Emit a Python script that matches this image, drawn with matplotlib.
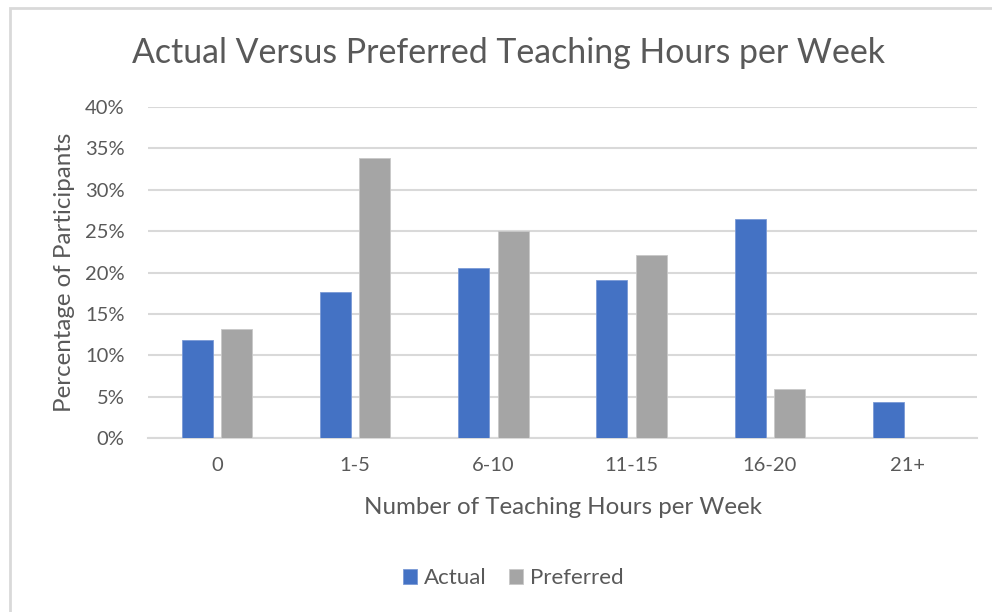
import matplotlib.pyplot as plt
import matplotlib.patches as mpatches
import numpy as np

categories = ['0', '1-5', '6-10', '11-15', '16-20', '21+']
actual = [11.8, 17.6, 20.6, 19.1, 26.5, 4.4]
preferred = [13.2, 33.8, 25.0, 22.1, 5.9, 0.0]
yticks = [0, 5, 10, 15, 20, 25, 30, 35, 40]

blue = '#4472C4'
grey = '#A5A5A5'
txt = '#595959'
plt.rcParams['font.family'] = ['Lato', 'DejaVu Sans']

W, H = 992, 612
fig = plt.figure(figsize=(W / 100, H / 100), dpi=100)
fig.patch.set_facecolor('white')

# outer chart frame (only left/top visible in the screenshot)
fig.patches.append(mpatches.Rectangle((10 / W, -0.1), 1.2, 1.1 - 8 / H,
                                      transform=fig.transFigure, fill=False,
                                      edgecolor='#d9d9d9', linewidth=2))

ax = fig.add_axes([148 / W, 1 - 438 / H, (977 - 148) / W, (438 - 107) / H])
x = np.arange(len(categories))
bw = 0.224
off = 0.142
ax.bar(x - off, actual, bw, color=blue, edgecolor='#7a9ad6', linewidth=0.6,
       label='Actual', zorder=3)
ax.bar(x + off, preferred, bw, color=grey, edgecolor='#c8c8c8', linewidth=0.6,
       label='Preferred', zorder=3)

ax.set_xlim(-0.5, len(categories) - 0.5)
ax.set_ylim(0, 40)
ax.set_yticks(yticks)
ax.set_yticklabels([f'{v}%' for v in yticks])
ax.set_xticks(x)
ax.set_xticklabels(categories)
ax.grid(axis='y', color='#d9d9d9', linewidth=1.5, zorder=0)
for s in ['top', 'right', 'left']:
    ax.spines[s].set_visible(False)
ax.spines['bottom'].set_color('#d9d9d9')
ax.spines['bottom'].set_linewidth(1.5)
ax.tick_params(length=0, colors=txt, labelsize=14.5)
ax.tick_params(axis='x', pad=14)
ax.tick_params(axis='y', pad=17)

ax.set_ylabel('Percentage of Participants', fontsize=17.4, color=txt, labelpad=7)
ax.set_xlabel('Number of Teaching Hours per Week', fontsize=17.4, color=txt, labelpad=16)

fig.text(509 / W, 1 - 53 / H, 'Actual Versus Preferred Teaching Hours per Week',
         ha='center', va='center', fontsize=24.4, color=txt)

fig.legend(loc='center', bbox_to_anchor=(513 / W, 1 - 578 / H), ncol=2, frameon=False,
           fontsize=16, handlelength=0.65, handleheight=0.65, handletextpad=0.3,
           columnspacing=1.0, labelcolor=txt)

fig.savefig('out.png', dpi=100)
